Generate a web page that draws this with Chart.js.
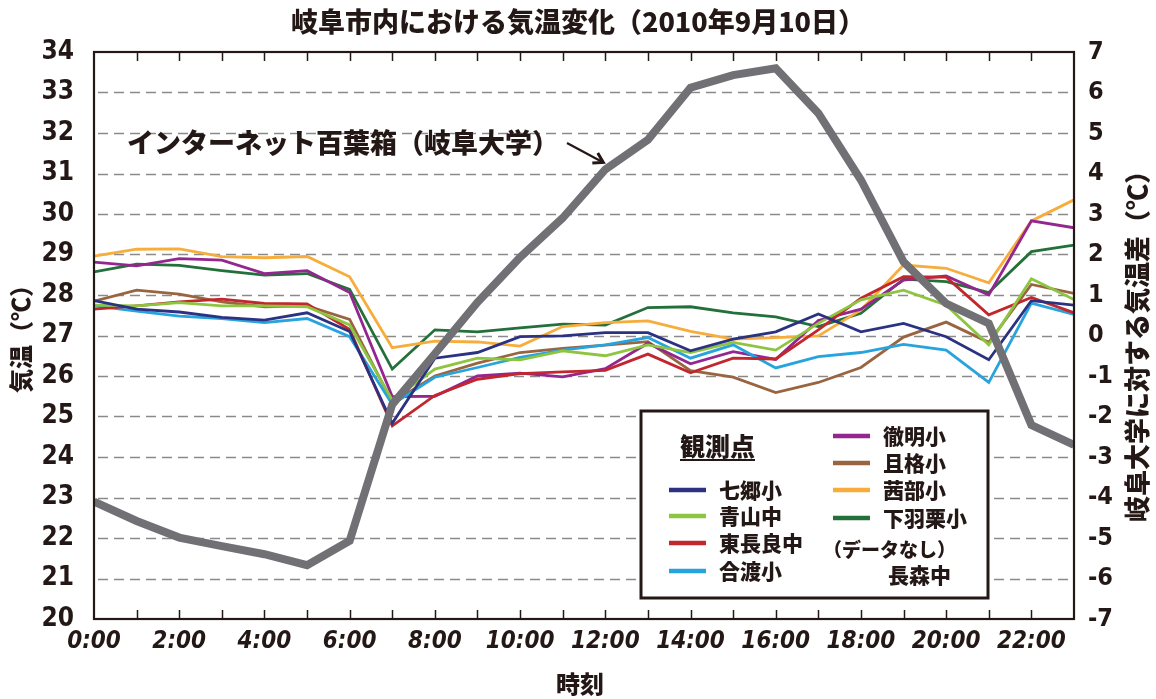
<!DOCTYPE html>
<html><head><meta charset="utf-8">
<script src="https://cdn.jsdelivr.net/npm/chart.js@4"></script>
<style>html,body{margin:0;padding:0;background:#fff}canvas{display:block}</style>
</head><body>
<canvas id="c" width="1156" height="699"></canvas>
<script>
// ---- data ----
const hours = [0,1,2,3,4,5,6,7,8,9,10,11,12,13,14,15,16,17,18,19,20,21,22,23];
const xTickLabels = ['0:00','2:00','4:00','6:00','8:00','10:00','12:00','14:00','16:00','18:00','20:00','22:00'];
const stations = ['七郷小','青山中','東長良中','合渡小','徹明小','且格小','茜部小','下羽栗小'];
const stationColors = ['#2c3282','#8dc540','#c1272d','#27a4dd','#93278f','#996540','#f6ad3c','#24703a'];

const shichigo  = [27.86,27.65,27.58,27.45,27.38,27.56,27.10,24.83,26.44,26.58,26.97,26.99,27.07,27.07,26.62,26.91,27.09,27.53,27.09,27.30,26.97,26.40,27.86,27.75];
const aoyama    = [27.75,27.73,27.81,27.73,27.73,27.71,27.26,25.40,26.17,26.44,26.40,26.62,26.50,26.77,26.58,26.83,26.64,27.30,27.88,28.12,27.75,26.77,28.40,27.89];
const higashiNagara = [27.65,27.73,27.83,27.90,27.79,27.78,27.15,24.77,25.52,25.92,26.06,26.10,26.14,26.54,26.08,26.44,26.42,27.14,27.92,28.45,28.44,27.51,27.94,27.56];
const goudo     = [27.73,27.60,27.48,27.42,27.32,27.42,26.97,25.30,25.97,26.21,26.46,26.64,26.77,26.95,26.44,26.77,26.20,26.48,26.58,26.78,26.64,25.84,27.80,27.52];
const tetsumei  = [28.81,28.72,28.90,28.86,28.53,28.60,28.06,25.49,25.50,26.00,26.07,25.98,26.18,26.81,26.30,26.60,26.41,27.37,27.65,28.37,28.47,28.00,29.83,29.66];
const kakaku    = [27.85,28.12,28.02,27.83,27.71,27.73,27.40,25.35,26.00,26.32,26.58,26.68,26.76,26.85,26.13,25.97,25.59,25.84,26.21,26.96,27.33,26.83,28.26,28.04];
const akanabe   = [28.96,29.13,29.14,28.95,28.92,28.95,28.45,26.70,26.86,26.84,26.74,27.22,27.32,27.36,27.10,26.91,26.95,26.99,27.63,28.74,28.66,28.30,29.83,30.35];
const shimohaguri = [28.57,28.76,28.73,28.60,28.49,28.53,28.14,26.17,27.14,27.09,27.19,27.28,27.26,27.69,27.71,27.56,27.46,27.22,27.55,28.39,28.33,28.06,29.07,29.23];
const gifuUniv  = [22.90,22.42,22.01,21.80,21.60,21.33,21.93,25.30,26.55,27.82,28.93,29.90,31.10,31.83,33.12,33.43,33.60,32.49,30.84,28.82,27.79,27.30,24.79,24.30];
const stationSeries = [shichigo, aoyama, higashiNagara, goudo, tetsumei, kakaku, akanabe, shimohaguri];

const INK = '#231815';
const JP = "'Noto Sans CJK JP','Noto Sans',sans-serif";
const NUM = "'Liberation Sans Narrow','DejaVu Sans Condensed',sans-serif";

const datasets = [{
  label: 'インターネット百葉箱（岐阜大学）', data: gifuUniv, borderColor: '#707075',
  borderWidth: 8, pointRadius: 0, tension: 0, order: -1, yAxisID: 'y'
}];
stations.forEach((s, i) => datasets.push({
  label: s, data: stationSeries[i], borderColor: stationColors[i], borderWidth: 2.8,
  pointRadius: 0, tension: 0, yAxisID: 'y'
}));

const decor = {
  id: 'decor',
  beforeDatasetsDraw(chart) {
    const {ctx, chartArea: a, scales: {y}} = chart;
    ctx.save();
    ctx.strokeStyle = '#8a8a8a'; ctx.lineWidth = 1.5; ctx.setLineDash([10, 6]);
    for (let v = 21; v <= 33; v++) {
      const py = Math.round(y.getPixelForValue(v)) + 0.5;
      ctx.beginPath(); ctx.moveTo(a.left + 4, py); ctx.lineTo(a.right, py); ctx.stroke();
    }
    ctx.restore();
  },
  afterDraw(chart) {
    const {ctx, chartArea: a, scales: {x, y}} = chart;
    ctx.save();
    // frame
    ctx.strokeStyle = INK; ctx.lineWidth = 2.2;
    ctx.strokeRect(a.left, a.top, a.right - a.left, a.bottom - a.top);
    ctx.lineWidth = 1.5;
    hours.forEach(h => {
      if (h === 0 || h === 23) return;
      const px = Math.round(x.getPixelForValue(h)) + 0.5;
      ctx.beginPath(); ctx.moveTo(px, a.top); ctx.lineTo(px, a.top + 9); ctx.stroke();
      ctx.beginPath(); ctx.moveTo(px, a.bottom); ctx.lineTo(px, a.bottom - 9); ctx.stroke();
    });
    // title
    ctx.fillStyle = INK; ctx.textAlign = 'center'; ctx.textBaseline = 'middle';
    ctx.font = `900 27px ${JP}`;
    ctx.fillText('岐阜市内における気温変化（2010年9月10日）', 578, 22);
    // axis titles
    ctx.font = `900 24px ${JP}`;
    ctx.fillText('時刻', 580, 684);
    ctx.save(); ctx.translate(21, 333); ctx.rotate(-Math.PI / 2);
    ctx.fillText('気温（℃）', 0, 0); ctx.restore();
    ctx.save(); ctx.translate(1137, 340); ctx.rotate(-Math.PI / 2);
    ctx.font = `900 26px ${JP}`;
    ctx.fillText('岐阜大学に対する気温差（℃）', 0, 0); ctx.restore();
    // annotation
    ctx.textAlign = 'left'; ctx.font = `900 27px ${JP}`;
    ctx.fillText('インターネット百葉箱（岐阜大学）', 127, 143);
    const tx = x.getPixelForValue(12) - 2, ty = y.getPixelForValue(gifuUniv[12]) - 7;
    ctx.strokeStyle = INK; ctx.lineWidth = 2.2;
    ctx.beginPath(); ctx.moveTo(567, 143); ctx.lineTo(tx, ty); ctx.stroke();
    const ang = Math.atan2(ty - 143, tx - 567);
    ctx.beginPath();
    ctx.moveTo(tx - 11 * Math.cos(ang - 0.55), ty - 11 * Math.sin(ang - 0.55));
    ctx.lineTo(tx, ty);
    ctx.lineTo(tx - 11 * Math.cos(ang + 0.55), ty - 11 * Math.sin(ang + 0.55));
    ctx.lineWidth = 3; ctx.stroke();
    // legend
    const L = {x: 641, y: 411, w: 347, h: 187};
    ctx.fillStyle = '#fff'; ctx.fillRect(L.x, L.y, L.w, L.h);
    ctx.strokeStyle = INK; ctx.lineWidth = 3; ctx.strokeRect(L.x, L.y, L.w, L.h);
    ctx.fillStyle = INK; ctx.textBaseline = 'middle';
    ctx.font = `900 25px ${JP}`;
    ctx.fillText('観測点', 680, 446);
    const tw = ctx.measureText('観測点').width;
    ctx.lineWidth = 2; ctx.beginPath(); ctx.moveTo(680, 460); ctx.lineTo(680 + tw, 460); ctx.stroke();
    const rowsL = [490, 516, 543, 571], rowsR = [436, 463, 490, 518];
    ctx.font = `900 21px ${JP}`;
    stations.forEach((s, i) => {
      const left = i < 4;
      const ry = left ? rowsL[i] : rowsR[i - 4];
      const lx = left ? 669 : 833, txx = left ? 719 : 883;
      ctx.strokeStyle = stationColors[i]; ctx.lineWidth = 4.5;
      ctx.beginPath(); ctx.moveTo(lx, ry); ctx.lineTo(lx + 37, ry); ctx.stroke();
      ctx.fillStyle = INK; ctx.fillText(s, txx, ry);
    });
    ctx.font = `900 19px ${JP}`;
    ctx.fillText('（データなし）', 823, 550);
    ctx.font = `900 21px ${JP}`;
    ctx.fillText('長森中', 888, 575);
    ctx.restore();
  }
};

new Chart(document.getElementById('c'), {
  type: 'line',
  data: { labels: hours, datasets },
  plugins: [decor],
  options: {
    responsive: false, animation: false, devicePixelRatio: 1,
    layout: { padding: { top: 52, left: 0, right: 0, bottom: 0 } },
    plugins: { legend: { display: false }, tooltip: { enabled: false }, title: { display: false } },
    scales: {
      x: {
        type: 'linear', min: 0, max: 23, position: 'bottom',
        grid: { display: false }, border: { display: false },
        ticks: {
          stepSize: 1, autoSkip: false, maxRotation: 0, padding: 0, color: INK,
          font: { family: NUM, size: 24, weight: 'bold', style: 'italic' },
          callback: v => (v % 2 === 0 ? xTickLabels[v / 2] : '')
        },
        afterFit: s => { s.height = 80; }
      },
      y: {
        min: 20, max: 34, position: 'left',
        grid: { display: false }, border: { display: false },
        ticks: { stepSize: 1, padding: 12, color: INK, font: { family: NUM, size: 26, weight: 'bold' } },
        afterFit: s => { s.width = 94; }
      },
      y2: {
        min: -7, max: 7, position: 'right',
        grid: { display: false }, border: { display: false },
        ticks: { stepSize: 1, padding: 6, color: INK, font: { family: NUM, size: 25, weight: 'bold' },
          callback: v => String(v) },
        afterFit: s => { s.width = 82; }
      }
    }
  }
});
</script>
</body></html>
